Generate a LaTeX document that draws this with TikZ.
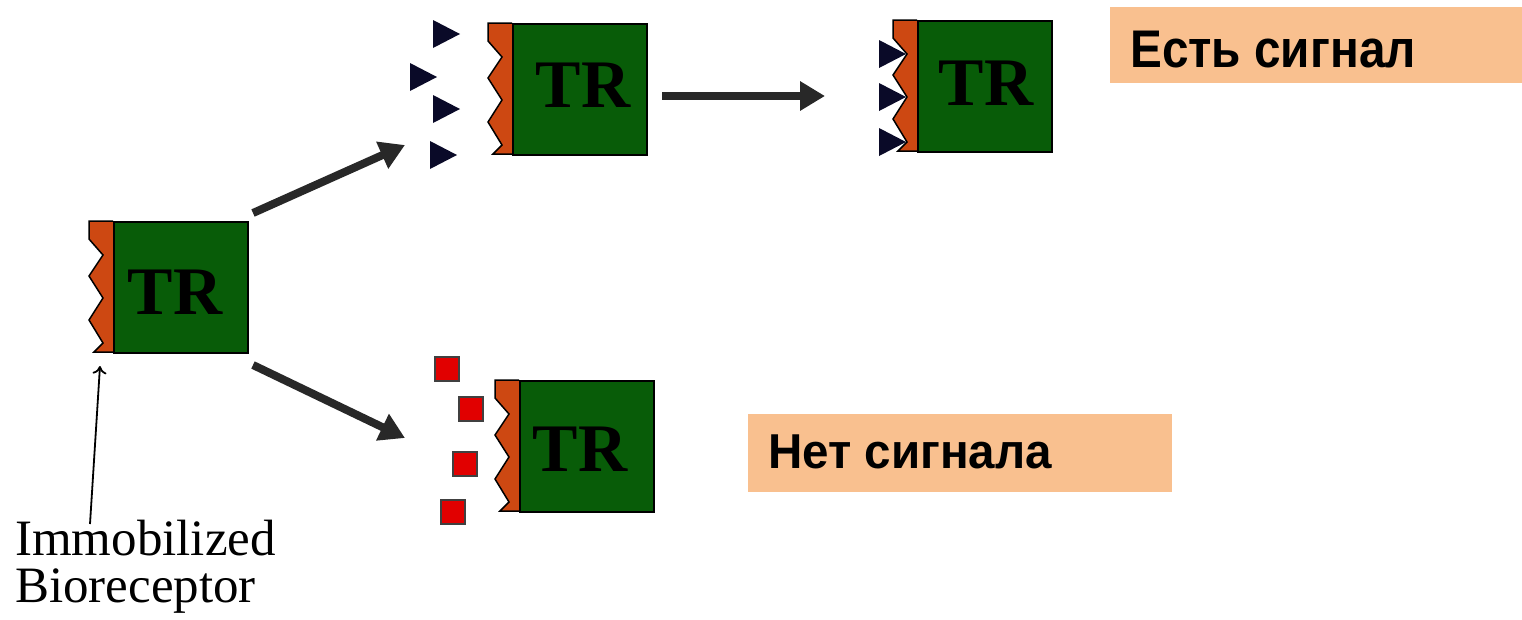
\documentclass[tikz,border=0pt]{standalone}
\usepackage{fontspec}
\setmainfont{Liberation Serif}
\newfontfamily\labfont{Liberation Sans}
\usetikzlibrary{arrows.meta}
\definecolor{trgreen}{RGB}{8,92,8}
\definecolor{stripcol}{RGB}{205,72,18}
\definecolor{navy}{RGB}{10,10,40}
\definecolor{sqred}{RGB}{225,0,0}
\definecolor{peach}{RGB}{249,192,143}
\definecolor{arrowgray}{RGB}{40,40,40}
\tikzset{
  trbox/.style={draw=black, line width=1.5pt, fill=trgreen, minimum width=134pt, minimum height=131pt, inner sep=0pt, anchor=north west},
  trtext/.style={font=\bfseries\fontsize{68}{68}\selectfont, text height=45pt, text depth=0pt, inner sep=0pt, text=black},
  bigarrow/.style={draw=arrowgray, line width=8pt, -{Triangle[length=25pt,width=28pt]}},
  thinarrow/.style={draw=black, line width=1.8pt, -{To[length=8pt,width=14pt]}},
  labbox/.style={fill=peach, inner sep=0pt, anchor=north west},
  labtext/.style={inner sep=0pt, anchor=base west},
  imtext/.style={font=\fontsize{51}{51}\selectfont, inner sep=0pt, anchor=base west},
  ligand/.style={fill=navy},
  redsq/.style={fill=sqred, draw=black!75, line width=1.2pt}
}
\newcommand\trblock[5]{%
  \begin{scope}[shift={(#2,#3)}]
    \fill[stripcol] (0,0) -- (0,18) -- (14,34) -- (0,55) -- (14,77) -- (0,99) -- (14,122) -- (5,131) -- (24,131) -- (24,0) -- cycle;
    \draw[line width=1.5pt, line join=miter] (24,0) -- (0,0) -- (0,18) -- (14,34) -- (0,55) -- (14,77) -- (0,99) -- (14,122) -- (5,131) -- (24,131);
    \node[trbox] (#1) at (24,0) {};
    \node[trtext] (#1t) at (#4,#5) {TR};
  \end{scope}}
\newcommand\ligtri[2]{\fill[ligand] (#1,#2-14) -- (#1+27,#2) -- (#1,#2+14) -- cycle;}
\begin{document}
\begin{tikzpicture}[x=1pt,y=-1pt]
\useasboundingbox (0,0) rectangle (1522,619);
% blocks
\trblock{b1}{89}{221}{86}{71}
\trblock{b2}{488}{23}{95}{62}
\trblock{b3}{893}{20}{93}{63}
\trblock{b4}{495}{380}{85}{69}
% free ligands (triangles)
\ligtri{433}{34}
\ligtri{410}{77}
\ligtri{433}{109}
\ligtri{430}{155}
% bound ligands
\ligtri{879}{54}
\ligtri{879}{97}
\ligtri{879}{142}
% red squares
\filldraw[redsq] (435,357) rectangle ++(24,24);
\filldraw[redsq] (459,397) rectangle ++(24,24);
\filldraw[redsq] (453,452) rectangle ++(24,24);
\filldraw[redsq] (441,500) rectangle ++(24,24);
% arrows
\coordinate (a1s) at (253,213);
\coordinate (a1e) at (405,145);
\coordinate (a2s) at (253,365);
\coordinate (a2e) at (405,438);
\coordinate (a3s) at (662,96);
\coordinate (a3e) at (825,96);
\draw[bigarrow] (a1s) -- (a1e);
\draw[bigarrow] (a2s) -- (a2e);
\draw[bigarrow] (a3s) -- (a3e);
% labels
\node[labbox, minimum width=412pt, minimum height=76pt] (lab1) at (1110,7) {};
\node[labtext] (lab1t) at (1130,67) {\scalebox{0.9}[1]{\labfont\bfseries\fontsize{53}{53}\selectfont Есть сигнал}};
\node[labbox, minimum width=424pt, minimum height=78pt] (lab2) at (748,414) {};
\node[labtext] (lab2t) at (768,468) {\scalebox{0.97}[1]{\labfont\bfseries\fontsize{49}{49}\selectfont Нет сигнала}};
% annotation
\node[imtext] (imm) at (15,555) {Immobilized};
\node[imtext] (bio) at (15,602) {Bioreceptor};
\coordinate (ptrs) at (90,524);
\coordinate (ptre) at (100,366);
\draw[thinarrow] (ptrs) -- (ptre);
\end{tikzpicture}
\end{document}
